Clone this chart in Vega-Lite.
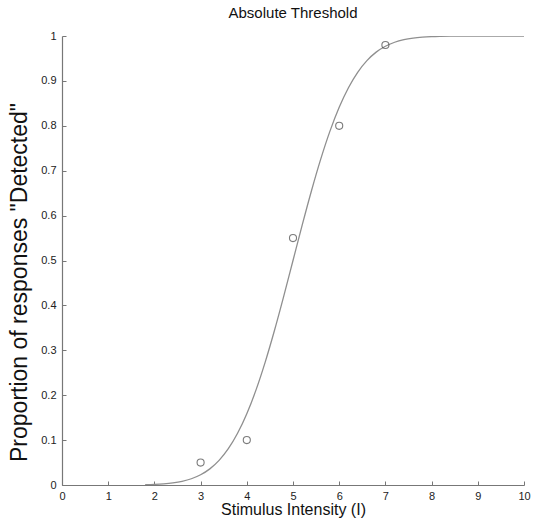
{
  "$schema": "https://vega.github.io/schema/vega-lite/v6.json",
  "autosize": "none",
  "width": 462,
  "height": 449,
  "padding": {"left": 62, "top": 36, "right": 11, "bottom": 46},
  "background": "white",
  "title": {"text": "Absolute Threshold", "fontSize": 15, "fontWeight": "normal", "font": "Liberation Sans", "color": "#111111", "offset": 9},
  "datasets": {
    "curve": [
      {"x": 1.8, "p": 0.0007}, {"x": 2.0, "p": 0.00135}, {"x": 2.2, "p": 0.00256}, {"x": 2.4, "p": 0.00466},
      {"x": 2.6, "p": 0.0082}, {"x": 2.8, "p": 0.0139}, {"x": 3.0, "p": 0.0228}, {"x": 3.2, "p": 0.0359},
      {"x": 3.4, "p": 0.0548}, {"x": 3.6, "p": 0.0808}, {"x": 3.8, "p": 0.1151}, {"x": 4.0, "p": 0.1587},
      {"x": 4.2, "p": 0.2119}, {"x": 4.4, "p": 0.2743}, {"x": 4.6, "p": 0.3446}, {"x": 4.8, "p": 0.4207},
      {"x": 5.0, "p": 0.5}, {"x": 5.2, "p": 0.5793}, {"x": 5.4, "p": 0.6554}, {"x": 5.6, "p": 0.7257},
      {"x": 5.8, "p": 0.7881}, {"x": 6.0, "p": 0.8413}, {"x": 6.2, "p": 0.8849}, {"x": 6.4, "p": 0.9192},
      {"x": 6.6, "p": 0.9452}, {"x": 6.8, "p": 0.9641}, {"x": 7.0, "p": 0.9772}, {"x": 7.2, "p": 0.9861},
      {"x": 7.4, "p": 0.9918}, {"x": 7.6, "p": 0.9953}, {"x": 7.8, "p": 0.9974}, {"x": 8.0, "p": 0.99865},
      {"x": 8.2, "p": 0.9993}, {"x": 8.4, "p": 0.9997}, {"x": 8.6, "p": 0.99984}, {"x": 8.8, "p": 0.99993},
      {"x": 9.0, "p": 0.99997}, {"x": 9.5, "p": 1.0}, {"x": 10.0, "p": 1.0}
    ],
    "obs": [
      {"x": 3, "p": 0.05}, {"x": 4, "p": 0.1}, {"x": 5, "p": 0.55}, {"x": 6, "p": 0.8}, {"x": 7, "p": 0.98}
    ]
  },
  "config": {
    "view": {"stroke": null},
    "axis": {
      "grid": false,
      "domainColor": "#777777",
      "domainWidth": 1.2,
      "tickColor": "#777777",
      "tickSize": -4,
      "labelFont": "Liberation Sans",
      "labelFontSize": 11,
      "labelColor": "#222222",
      "titleFont": "Liberation Sans",
      "titleFontWeight": "normal",
      "titleColor": "#111111"
    }
  },
  "layer": [
    {
      "data": {"name": "curve"},
      "mark": {"type": "line", "color": "#8f8f8f", "strokeWidth": 1.3, "interpolate": "monotone", "clip": true},
      "encoding": {
        "x": {"field": "x", "type": "quantitative", "scale": {"domain": [0, 10], "nice": false},
              "axis": {"values": [0,1,2,3,4,5,6,7,8,9,10], "title": "Stimulus Intensity (I)", "titleFontSize": 16, "labelPadding": 9, "titlePadding": 0, "labelFlush": false}},
        "y": {"field": "p", "type": "quantitative", "scale": {"domain": [0, 1], "nice": false},
              "axis": {"values": [0,0.1,0.2,0.3,0.4,0.5,0.6,0.7,0.8,0.9,1], "format": ".1~f", "title": "Proportion of responses \"Detected\"", "titleFontSize": 23, "titleY": 246, "labelPadding": 10, "titlePadding": 9, "labelFlush": false}}
      }
    },
    {
      "data": {"name": "obs"},
      "mark": {"type": "point", "shape": "circle", "filled": false, "size": 50, "color": "#444444", "strokeWidth": 1.1},
      "encoding": {
        "x": {"field": "x", "type": "quantitative"},
        "y": {"field": "p", "type": "quantitative"}
      }
    }
  ]
}
